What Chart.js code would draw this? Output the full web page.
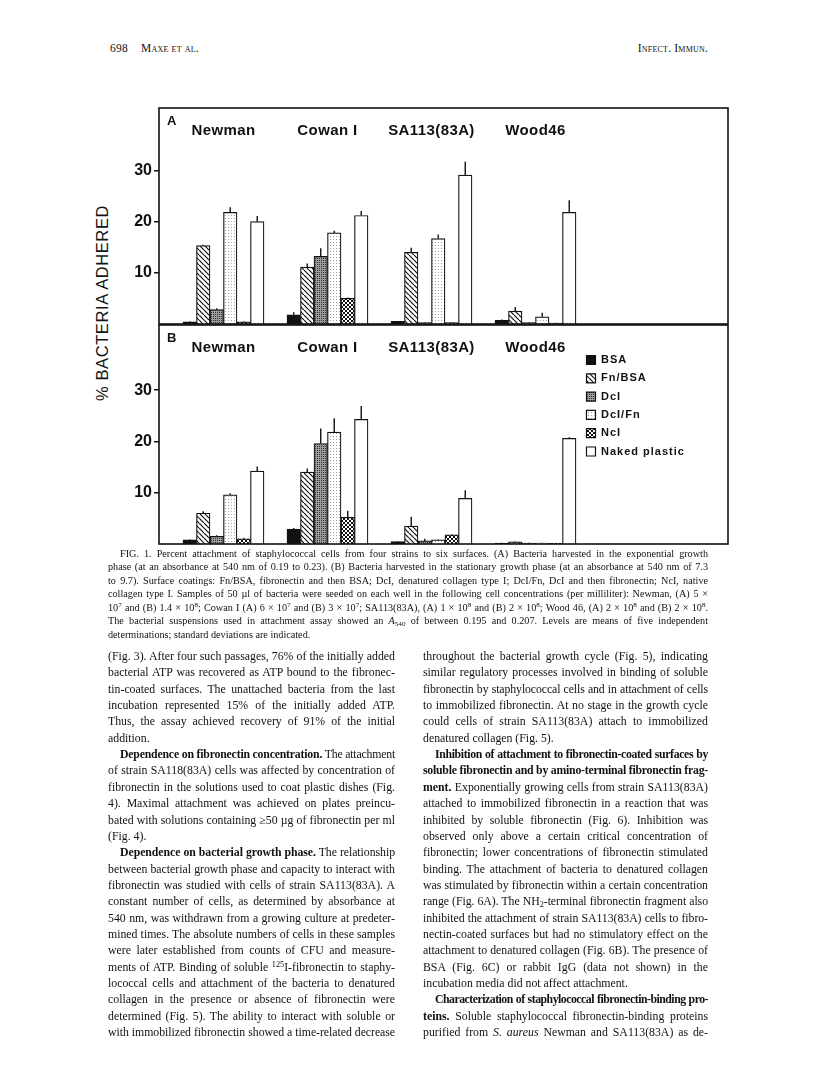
<!DOCTYPE html>
<html><head><meta charset="utf-8">
<script src="https://cdn.jsdelivr.net/npm/chart.js@4.4.0/dist/chart.umd.min.js"></script>
<style>
html,body{margin:0;padding:0;background:#fff;}
#page{position:relative;width:816px;height:1080px;overflow:hidden;background:#fff;font-family:"Liberation Serif","Times New Roman",serif;color:#111;}
.hdr{position:absolute;top:41px;font-size:11.5px;line-height:14px;font-variant:small-caps;letter-spacing:0.2px;white-space:nowrap}
.cv{position:absolute;}
#ytitle{position:absolute;left:102px;top:303px;transform:translate(-50%,-50%) rotate(-90deg);font-family:"Liberation Sans",Arial,sans-serif;font-size:16.5px;white-space:nowrap;letter-spacing:0.6px;color:#151515}
.ln{position:absolute;text-align:justify;text-align-last:justify;overflow:visible}
.ln.last{text-align-last:left}
.cap{font-size:10.2px;line-height:13px;height:13px}
.bt{font-size:11.8px;line-height:14px;height:14px}
sup,sub{font-size:0.7em;line-height:0;position:relative;vertical-align:baseline}
sup{top:-0.45em} sub{top:0.25em}
</style></head>
<body><div id="page">
<div class="hdr" style="left:110px">698</div>
<div class="hdr" style="left:141px">Maxe et al.</div>
<div class="hdr" style="right:108px">Infect. Immun.</div>
<canvas id="cA" class="cv" width="611" height="230" style="left:119px;top:100px"></canvas>
<canvas id="cB" class="cv" width="611" height="232" style="left:119px;top:318px"></canvas>
<div id="ytitle">% BACTERIA ADHERED</div>
<div id="textHost"></div>
</div>
<script>
// ---- data ----
const strains = ['Newman', 'Cowan I', 'SA113(83A)', 'Wood46'];
const surfaces = ['BSA', 'Fn/BSA', 'DcI', 'DcI/Fn', 'NcI', 'Naked plastic'];
const yTicks = [10, 20, 30];
// Panel A: exponential growth phase (% adhered), one array per surface over strains
const aBSA    = [0.4, 1.8, 0.5, 0.7];
const aFnBSA  = [15.3, 11.1, 14.0, 2.5];
const aDcI    = [2.8, 13.2, 0.3, 0.3];
const aDcIFn  = [21.8, 17.8, 16.7, 1.4];
const aNcI    = [0.4, 5.0, 0.3, 0.2];
const aNaked  = [20.0, 21.2, 29.1, 21.8];
const aBSAsd   = [0.1, 0.5, 0.1, 0.2];
const aFnBSAsd = [0.2, 0.7, 0.9, 0.8];
const aDcIsd   = [0.3, 1.6, 0.1, 0.1];
const aDcIFnsd = [1.0, 0.4, 0.8, 0.8];
const aNcIsd   = [0.1, 0.2, 0.1, 0.05];
const aNakedsd = [1.1, 0.9, 2.6, 2.4];
// Panel B: stationary growth phase
const bBSA    = [0.8, 2.9, 0.45, 0.2];
const bFnBSA  = [6.0, 14.0, 3.5, 0.4];
const bDcI    = [1.5, 19.6, 0.6, 0.2];
const bDcIFn  = [9.6, 21.8, 0.8, 0.2];
const bNcI    = [1.0, 5.2, 1.8, 0.15];
const bNaked  = [14.2, 24.3, 8.9, 20.6];
const bBSAsd   = [0.1, 0.2, 0.1, 0.05];
const bFnBSAsd = [0.4, 0.7, 1.8, 0.1];
const bDcIsd   = [0.2, 2.9, 0.4, 0.05];
const bDcIFnsd = [0.3, 2.7, 0.1, 0.05];
const bNcIsd   = [0.2, 1.3, 0.1, 0.05];
const bNakedsd = [0.9, 2.6, 1.6, 0.2];

// ---- text ----
const captionLines = [
 '>FIG. 1. Percent attachment of staphylococcal cells from four strains to six surfaces. (A) Bacteria harvested in the exponential growth',
 'phase (at an absorbance at 540 nm of 0.19 to 0.23). (B) Bacteria harvested in the stationary growth phase (at an absorbance at 540 nm of 7.3',
 'to 9.7). Surface coatings: Fn/BSA, fibronectin and then BSA; DcI, denatured collagen type I; DcI/Fn, DcI and then fibronectin; NcI, native',
 'collagen type I. Samples of 50 µl of bacteria were seeded on each well in the following cell concentrations (per milliliter): Newman, (A) 5 ×',
 '10<sup>7</sup> and (B) 1.4 × 10<sup>8</sup>; Cowan I (A) 6 × 10<sup>7</sup> and (B) 3 × 10<sup>7</sup>; SA113(83A), (A) 1 × 10<sup>8</sup> and (B) 2 × 10<sup>8</sup>; Wood 46, (A) 2 × 10<sup>8</sup> and (B) 2 × 10<sup>8</sup>.',
 'The bacterial suspensions used in attachment assay showed an <i>A</i><sub>540</sub> of between 0.195 and 0.207. Levels are means of five independent',
 'determinations; standard deviations are indicated.|'
];
const leftLines = [
 '(Fig. 3). After four such passages, 76% of the initially added',
 'bacterial ATP was recovered as ATP bound to the fibronec-',
 'tin-coated surfaces. The unattached bacteria from the last',
 'incubation represented 15% of the initially added ATP.',
 'Thus, the assay achieved recovery of 91% of the initial',
 'addition.|',
 '><b>Dependence on fibronectin concentration.</b> The attachment',
 'of strain SA118(83A) cells was affected by concentration of',
 'fibronectin in the solutions used to coat plastic dishes (Fig.',
 '4). Maximal attachment was achieved on plates preincu-',
 'bated with solutions containing ≥50 µg of fibronectin per ml',
 '(Fig. 4).|',
 '><b>Dependence on bacterial growth phase.</b> The relationship',
 'between bacterial growth phase and capacity to interact with',
 'fibronectin was studied with cells of strain SA113(83A). A',
 'constant number of cells, as determined by absorbance at',
 '540 nm, was withdrawn from a growing culture at predeter-',
 'mined times. The absolute numbers of cells in these samples',
 'were later established from counts of CFU and measure-',
 'ments of ATP. Binding of soluble <sup>125</sup>I-fibronectin to staphy-',
 'lococcal cells and attachment of the bacteria to denatured',
 'collagen in the presence or absence of fibronectin were',
 'determined (Fig. 5). The ability to interact with soluble or',
 'with immobilized fibronectin showed a time-related decrease'
];
const rightLines = [
 'throughout the bacterial growth cycle (Fig. 5), indicating',
 'similar regulatory processes involved in binding of soluble',
 'fibronectin by staphylococcal cells and in attachment of cells',
 'to immobilized fibronectin. At no stage in the growth cycle',
 'could cells of strain SA113(83A) attach to immobilized',
 'denatured collagen (Fig. 5).|',
 '><b>Inhibition of attachment to fibronectin-coated surfaces by</b>',
 '<b>soluble fibronectin and by amino-terminal fibronectin frag-</b>',
 '<b>ment.</b> Exponentially growing cells from strain SA113(83A)',
 'attached to immobilized fibronectin in a reaction that was',
 'inhibited by soluble fibronectin (Fig. 6). Inhibition was',
 'observed only above a certain critical concentration of',
 'fibronectin; lower concentrations of fibronectin stimulated',
 'binding. The attachment of bacteria to denatured collagen',
 'was stimulated by fibronectin within a certain concentration',
 'range (Fig. 6A). The NH<sub>2</sub>-terminal fibronectin fragment also',
 'inhibited the attachment of strain SA113(83A) cells to fibro-',
 'nectin-coated surfaces but had no stimulatory effect on the',
 'attachment to denatured collagen (Fig. 6B). The presence of',
 'BSA (Fig. 6C) or rabbit IgG (data not shown) in the',
 'incubation media did not affect attachment.|',
 '><b>Characterization of staphylococcal fibronectin-binding pro-</b>',
 '<b>teins.</b> Soluble staphylococcal fibronectin-binding proteins',
 'purified from <i>S. aureus</i> Newman and SA113(83A) as de-'
];

function placeLines(lines, cls, left, width, top, lh, indent){
  const host = document.getElementById('textHost');
  lines.forEach((raw, i) => {
    let s = raw, ind = 0, last = false;
    if (s.startsWith('>')) { s = s.slice(1); ind = indent; }
    if (s.endsWith('|')) { s = s.slice(0, -1); last = true; }
    const d = document.createElement('div');
    d.className = 'ln ' + cls + (last ? ' last' : '');
    d.style.left = (left + ind) + 'px';
    d.style.width = (width - ind) + 'px';
    d.style.top = (top + i * lh) + 'px';
    d.innerHTML = s;
    host.appendChild(d);
  });
}
placeLines(captionLines, 'cap', 108, 600, 546.5, 13.5, 12);
placeLines(leftLines, 'bt', 108, 287, 649, 16.35, 12);
placeLines(rightLines, 'bt', 423, 285, 649, 16.35, 12);
// keep every text line on a single line
document.querySelectorAll('.ln').forEach(el => {
  const lh = parseFloat(getComputedStyle(el).lineHeight);
  let ls = 0;
  el.style.height = 'auto';
  while (el.scrollHeight > lh * 1.5 && ls > -1.5) { ls -= 0.05; el.style.letterSpacing = ls + 'px'; }
  el.style.height = '';
});

// ---- patterns ----
function pat(w, h, draw){ const c = document.createElement('canvas'); c.width = w; c.height = h; const g = c.getContext('2d'); draw(g, w, h); return g.createPattern(c, 'repeat'); }
const fillBSA = '#111111';
const fillFn = pat(5, 5, (g, w, h) => { g.fillStyle = '#fff'; g.fillRect(0,0,w,h); g.strokeStyle = '#111'; g.lineWidth = 1.2; g.beginPath(); for (let k=-1;k<=1;k++){ g.moveTo(k*w, 0); g.lineTo(k*w + w, h); } g.stroke(); });
const fillDcI = pat(2, 2, (g) => { g.fillStyle = '#9c9c9c'; g.fillRect(0,0,2,2); g.fillStyle = '#333'; g.fillRect(0,0,1,1); });
const fillDcIFn = pat(3, 3, (g) => { g.fillStyle = '#fff'; g.fillRect(0,0,3,3); g.fillStyle = '#a0a0a0'; g.fillRect(1,1,1,1); });
const fillNcI = pat(4, 4, (g) => { g.fillStyle = '#fff'; g.fillRect(0,0,4,4); g.fillStyle = '#111'; g.fillRect(0,0,2,2); g.fillRect(2,2,2,2); });
const fillNaked = '#ffffff';
const fills = [fillBSA, fillFn, fillDcI, fillDcIFn, fillNcI, fillNaked];

// ---- plugins ----
const framePlugin = { id: 'frame', afterDatasetsDraw(chart){ const {ctx, chartArea: a} = chart; ctx.save(); ctx.strokeStyle = '#111'; ctx.lineWidth = 1.6; ctx.strokeRect(a.left, a.top, a.right - a.left, a.bottom - a.top); ctx.restore(); } };
const errPlugin = { id: 'err', afterDatasetsDraw(chart){
  const ctx = chart.ctx, ys = chart.scales.y;
  ctx.save(); ctx.strokeStyle = '#111'; ctx.lineWidth = 1.4;
  chart.data.datasets.forEach((ds, di) => {
    const meta = chart.getDatasetMeta(di);
    meta.data.forEach((bar, i) => {
      const v = ds.data[i].y, e = ds.sd[i];
      if (!e) return;
      ctx.beginPath(); ctx.moveTo(bar.x, ys.getPixelForValue(v)); ctx.lineTo(bar.x, ys.getPixelForValue(v + e)); ctx.stroke();
    });
  });
  ctx.restore();
} };
const labelPlugin = { id: 'lab', afterDraw(chart, args, opts){
  const ctx = chart.ctx, a = chart.chartArea, xs = chart.scales.x;
  ctx.save(); ctx.fillStyle = '#111'; ctx.textBaseline = 'alphabetic';
  ctx.font = 'bold 13px "Liberation Sans", Arial, sans-serif'; ctx.textAlign = 'left';
  ctx.fillText(opts.panel, a.left + 8, a.top + 16.5);
  ctx.font = 'bold 15px "Liberation Sans", Arial, sans-serif'; ctx.textAlign = 'center';
  ctx.letterSpacing = '0.4px';
  strains.forEach((s, i) => ctx.fillText(s, xs.getPixelForValue(i + 1), a.top + 27));
  ctx.restore();
} };
const legendPlace = { id: 'legendPlace', afterLayout(chart){
  const lg = chart.legend; if (!lg || !lg.options || !lg.options.display) return;
  const a = chart.chartArea, pad = lg.options.labels.padding;
  lg.left = a.left + (a.right - a.left) * 0.7513 - pad;
  lg.top = a.top + 22.2;
  if (!lg._spaced) { const d = lg.draw.bind(lg); lg.draw = function(){ const c = this.ctx; c.save(); c.letterSpacing = '1px'; d(); c.restore(); }; lg._spaced = true; }
} };

function makeDatasets(vals, sds){
  return surfaces.map((name, k) => ({
    label: name,
    data: vals[k].map((v, i) => ({x: i + 1, y: v})),
    sd: sds[k],
    backgroundColor: fills[k],
    borderColor: '#111',
    borderWidth: 1.2,
    barThickness: 13.5
  }));
}
function makeChart(id, panel, vals, sds, ymax, pad, showLegend){
  return new Chart(document.getElementById(id), {
    type: 'bar',
    data: { datasets: makeDatasets(vals, sds) },
    options: {
      responsive: false, animation: false, devicePixelRatio: 1,
      layout: { padding: pad },
      scales: {
        x: { type: 'linear', min: 0.38, max: 5.851, offset: false, display: false, grid: { offset: false }, ticks: { stepSize: 1, includeBounds: false } },
        y: { min: 0, max: ymax,
             afterBuildTicks: s => { s.ticks = yTicks.map(v => ({value: v})); },
             afterFit: s => { s.width = 40; s.paddingTop = 0; s.paddingBottom = 0; },
             border: { display: false },
             grid: { drawOnChartArea: false, drawTicks: true, tickLength: 5, color: '#111', lineWidth: 1.5 },
             ticks: { color: '#111', padding: 2, font: { family: '"Liberation Sans", Arial, sans-serif', size: 16, weight: 'bold' } } }
      },
      plugins: {
        lab: { panel: panel },
        tooltip: { enabled: false },
        legend: { display: showLegend, position: 'chartArea', align: 'start',
          labels: { boxWidth: 9, boxHeight: 9, padding: 7.3, color: '#111', font: { family: '"Liberation Sans", Arial, sans-serif', size: 11, weight: 'bold' } } }
      }
    },
    plugins: [framePlugin, errPlugin, labelPlugin, legendPlace]
  });
}
makeChart('cA', 'A', [aBSA, aFnBSA, aDcI, aDcIFn, aNcI, aNaked], [aBSAsd, aFnBSAsd, aDcIsd, aDcIFnsd, aNcIsd, aNakedsd], 42.2, {left: 0, top: 8, right: 2, bottom: 6}, false);
makeChart('cB', 'B', [bBSA, bFnBSA, bDcI, bDcIFn, bNcI, bNaked], [bBSAsd, bFnBSAsd, bDcIsd, bDcIFnsd, bNcIsd, bNakedsd], 42.7, {left: 0, top: 7, right: 2, bottom: 6}, true);
</script>
</body></html>
